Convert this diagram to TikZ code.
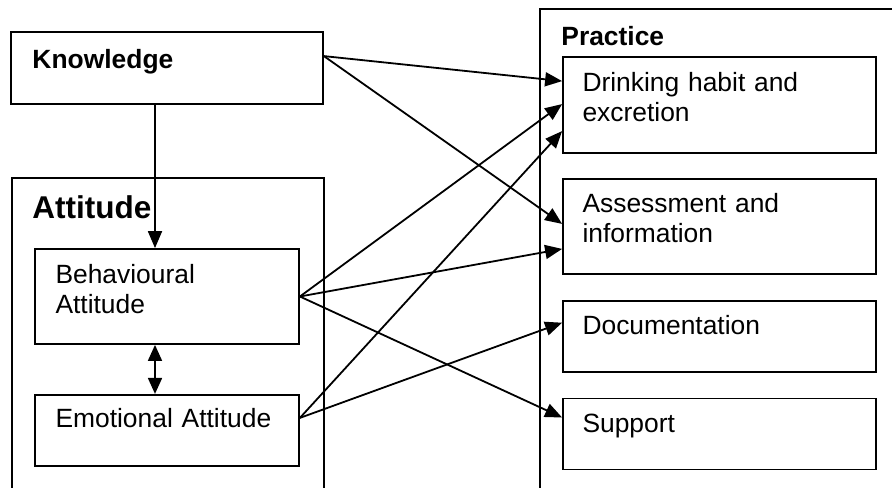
\documentclass[tikz,border=0pt]{standalone}
\usepackage{fontspec}
\setmainfont{Liberation Sans}
\usetikzlibrary{arrows.meta,positioning,calc}

\begin{document}
\begin{tikzpicture}[
  x=0.5pt,y=-0.5pt,
  node distance=12.5pt,
  box/.style={draw,line width=0.9pt,minimum width=156.5pt,inner sep=0pt},
  frame/.style={draw,line width=0.9pt,anchor=north west,inner sep=0pt},
  lbl/.style={anchor=base west,inner sep=0pt,align=left,text width=140pt,font=\fontsize{13.2}{15}\selectfont},
  head/.style={lbl,font=\fontsize{13.2}{15}\selectfont\bfseries},
  arr/.style={-{Triangle[length=8.5pt,width=7pt]},line width=0.9pt},
  darr/.style={{Triangle[length=8pt,width=7pt]}-{Triangle[length=8pt,width=7pt]},line width=0.9pt}
]
\useasboundingbox (0,0) rectangle (892,487);
\clip (0,0) rectangle (892,487);
% left side
\node[box,minimum width=156pt,minimum height=36pt] (know) at (167,68) {};
\node[frame,minimum width=156pt,minimum height=200pt] (att) at (11,177) {};
\node[box,minimum width=132pt,minimum height=47.5pt] (beh) at (167,296.5) {};
\node[box,minimum width=132pt,minimum height=35.5pt,below=24.5pt of beh] (emo) {};
% right side
\node[frame,minimum width=200pt,minimum height=270pt] (prac) at (539,8) {};
\node[box,minimum height=48pt] (drink) at (719.5,105) {};
\node[box,minimum height=47.5pt,below=12pt of drink] (assess) {};
\node[box,minimum height=35.5pt,below=of assess] (doc) {};
\node[box,minimum height=35.5pt,below=of doc] (supp) {};
% texts
\node[head] (know-t) at ([xshift=11pt,yshift=-18.5pt]know.north west) {Knowledge};
\node[head,font=\fontsize{15.75}{18}\selectfont\bfseries] (att-t) at ([xshift=10.5pt,yshift=-20.5pt]att.north west) {Attitude};
\node[lbl] (beh-t) at ([xshift=10.5pt,yshift=-17.5pt]beh.north west) {Behavioural\\Attitude};
\node[lbl] (emo-t) at ([xshift=10.5pt,yshift=-17pt]emo.north west) {Emotional Attitude};
\node[head] (prac-t) at ([xshift=11pt,yshift=-18.5pt]prac.north west) {Practice};
\node[lbl] (drink-t) at ([xshift=10pt,yshift=-17.5pt]drink.north west) {Drinking habit and\\excretion};
\node[lbl] (assess-t) at ([xshift=10pt,yshift=-17.5pt]assess.north west) {Assessment and\\information};
\node[lbl] (doc-t) at ([xshift=10pt,yshift=-17.5pt]doc.north west) {Documentation};
\node[lbl] (supp-t) at ([xshift=10pt,yshift=-17.5pt]supp.north west) {Support};
% arrows
\draw[arr] ([xshift=-6pt]know.south)--([xshift=-6pt]beh.north);
\draw[darr] ([xshift=-6pt]beh.south)--([xshift=-6pt]emo.north);
\draw[arr] ([yshift=-12.5pt]know.north east)--([yshift=-12.5pt]drink.north west);
\draw[arr] ([yshift=-12.5pt]know.north east)--([yshift=-23pt]assess.north west);
\draw[arr] (beh.east)--([yshift=-24pt]drink.north west);
\draw[arr] (beh.east)--([yshift=-35.5pt]assess.north west);
\draw[arr] (beh.east)--([yshift=-10pt]supp.north west);
\draw[arr] ([yshift=-12pt]emo.north east)--([yshift=-37.5pt]drink.north west);
\draw[arr] ([yshift=-12pt]emo.north east)--([yshift=-11.5pt]doc.north west);
\end{tikzpicture}
\end{document}
